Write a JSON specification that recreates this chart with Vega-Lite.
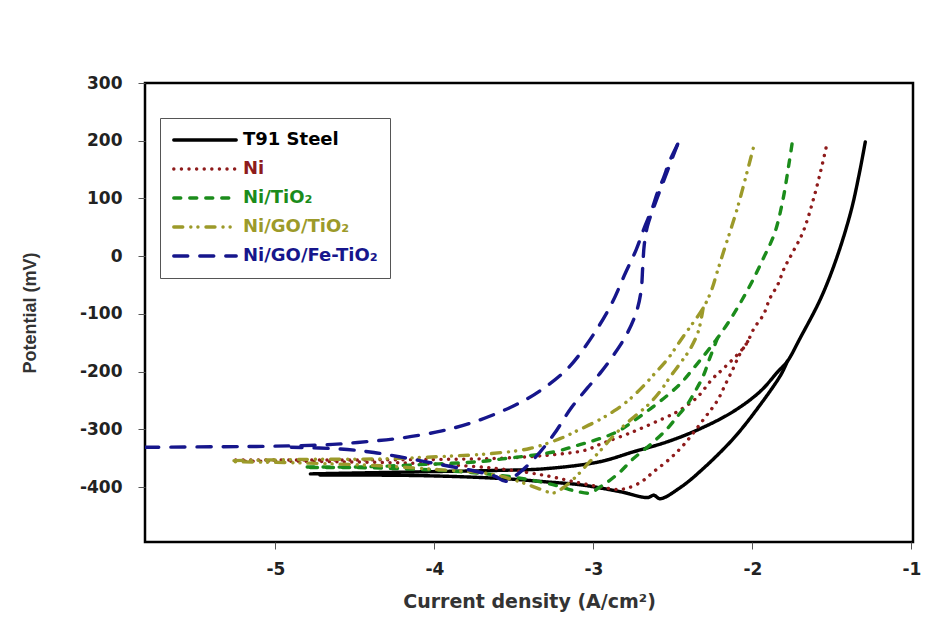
{
  "$schema": "https://vega.github.io/schema/vega-lite/v6.json",
  "autosize": "none",
  "width": 768,
  "height": 459,
  "padding": {"left": 145, "top": 83, "right": 34, "bottom": 92},
  "background": "white",
  "datasets": {
    "curves": [
      {"series":"T91 Steel","branch":"A","idx":1,"logi":-4.78,"E":-377},
      {"series":"T91 Steel","branch":"A","idx":2,"logi":-4.40,"E":-375},
      {"series":"T91 Steel","branch":"A","idx":3,"logi":-4.00,"E":-373},
      {"series":"T91 Steel","branch":"A","idx":4,"logi":-3.60,"E":-371},
      {"series":"T91 Steel","branch":"A","idx":5,"logi":-3.30,"E":-368},
      {"series":"T91 Steel","branch":"A","idx":6,"logi":-2.96,"E":-356},
      {"series":"T91 Steel","branch":"A","idx":7,"logi":-2.75,"E":-339},
      {"series":"T91 Steel","branch":"A","idx":8,"logi":-2.53,"E":-321},
      {"series":"T91 Steel","branch":"A","idx":9,"logi":-2.33,"E":-299},
      {"series":"T91 Steel","branch":"A","idx":10,"logi":-2.12,"E":-269},
      {"series":"T91 Steel","branch":"A","idx":11,"logi":-1.95,"E":-234},
      {"series":"T91 Steel","branch":"A","idx":12,"logi":-1.84,"E":-200},
      {"series":"T91 Steel","branch":"A","idx":13,"logi":-1.78,"E":-182},
      {"series":"T91 Steel","branch":"A","idx":14,"logi":-1.70,"E":-142},
      {"series":"T91 Steel","branch":"A","idx":15,"logi":-1.57,"E":-73},
      {"series":"T91 Steel","branch":"A","idx":16,"logi":-1.47,"E":-3},
      {"series":"T91 Steel","branch":"A","idx":17,"logi":-1.38,"E":78},
      {"series":"T91 Steel","branch":"A","idx":18,"logi":-1.33,"E":140},
      {"series":"T91 Steel","branch":"A","idx":19,"logi":-1.29,"E":198},
      {"series":"T91 Steel","branch":"B","idx":1,"logi":-1.78,"E":-182},
      {"series":"T91 Steel","branch":"B","idx":2,"logi":-1.82,"E":-205},
      {"series":"T91 Steel","branch":"B","idx":3,"logi":-1.95,"E":-257},
      {"series":"T91 Steel","branch":"B","idx":4,"logi":-2.12,"E":-316},
      {"series":"T91 Steel","branch":"B","idx":5,"logi":-2.33,"E":-373},
      {"series":"T91 Steel","branch":"B","idx":6,"logi":-2.45,"E":-400},
      {"series":"T91 Steel","branch":"B","idx":7,"logi":-2.58,"E":-420},
      {"series":"T91 Steel","branch":"B","idx":8,"logi":-2.62,"E":-414},
      {"series":"T91 Steel","branch":"B","idx":9,"logi":-2.66,"E":-418},
      {"series":"T91 Steel","branch":"B","idx":10,"logi":-2.83,"E":-408},
      {"series":"T91 Steel","branch":"B","idx":11,"logi":-3.08,"E":-396},
      {"series":"T91 Steel","branch":"B","idx":12,"logi":-3.29,"E":-391},
      {"series":"T91 Steel","branch":"B","idx":13,"logi":-3.58,"E":-385},
      {"series":"T91 Steel","branch":"B","idx":14,"logi":-4.09,"E":-380},
      {"series":"T91 Steel","branch":"B","idx":15,"logi":-4.72,"E":-379},

      {"series":"Ni","branch":"A","idx":1,"logi":-5.25,"E":-353},
      {"series":"Ni","branch":"A","idx":2,"logi":-4.60,"E":-353},
      {"series":"Ni","branch":"A","idx":3,"logi":-4.00,"E":-352},
      {"series":"Ni","branch":"A","idx":4,"logi":-3.60,"E":-350},
      {"series":"Ni","branch":"A","idx":5,"logi":-3.30,"E":-345},
      {"series":"Ni","branch":"A","idx":6,"logi":-3.05,"E":-336},
      {"series":"Ni","branch":"A","idx":7,"logi":-2.96,"E":-326},
      {"series":"Ni","branch":"A","idx":8,"logi":-2.75,"E":-304},
      {"series":"Ni","branch":"A","idx":9,"logi":-2.56,"E":-281},
      {"series":"Ni","branch":"A","idx":10,"logi":-2.47,"E":-269},
      {"series":"Ni","branch":"A","idx":11,"logi":-2.35,"E":-245},
      {"series":"Ni","branch":"A","idx":12,"logi":-2.25,"E":-212},
      {"series":"Ni","branch":"A","idx":13,"logi":-2.18,"E":-194},
      {"series":"Ni","branch":"A","idx":14,"logi":-2.06,"E":-160},
      {"series":"Ni","branch":"A","idx":15,"logi":-2.03,"E":-148},
      {"series":"Ni","branch":"A","idx":16,"logi":-1.99,"E":-125},
      {"series":"Ni","branch":"A","idx":17,"logi":-1.93,"E":-101},
      {"series":"Ni","branch":"A","idx":18,"logi":-1.89,"E":-73},
      {"series":"Ni","branch":"A","idx":19,"logi":-1.84,"E":-49},
      {"series":"Ni","branch":"A","idx":20,"logi":-1.80,"E":-21},
      {"series":"Ni","branch":"A","idx":21,"logi":-1.75,"E":5},
      {"series":"Ni","branch":"A","idx":22,"logi":-1.68,"E":43},
      {"series":"Ni","branch":"A","idx":23,"logi":-1.62,"E":95},
      {"series":"Ni","branch":"A","idx":24,"logi":-1.57,"E":148},
      {"series":"Ni","branch":"A","idx":25,"logi":-1.53,"E":196},
      {"series":"Ni","branch":"B","idx":1,"logi":-2.03,"E":-148},
      {"series":"Ni","branch":"B","idx":2,"logi":-2.08,"E":-170},
      {"series":"Ni","branch":"B","idx":3,"logi":-2.12,"E":-194},
      {"series":"Ni","branch":"B","idx":4,"logi":-2.17,"E":-222},
      {"series":"Ni","branch":"B","idx":5,"logi":-2.22,"E":-250},
      {"series":"Ni","branch":"B","idx":6,"logi":-2.30,"E":-280},
      {"series":"Ni","branch":"B","idx":7,"logi":-2.43,"E":-326},
      {"series":"Ni","branch":"B","idx":8,"logi":-2.52,"E":-351},
      {"series":"Ni","branch":"B","idx":9,"logi":-2.62,"E":-373},
      {"series":"Ni","branch":"B","idx":10,"logi":-2.70,"E":-391},
      {"series":"Ni","branch":"B","idx":11,"logi":-2.79,"E":-402},
      {"series":"Ni","branch":"B","idx":12,"logi":-2.85,"E":-404},
      {"series":"Ni","branch":"B","idx":13,"logi":-2.95,"E":-400},
      {"series":"Ni","branch":"B","idx":14,"logi":-3.10,"E":-392},
      {"series":"Ni","branch":"B","idx":15,"logi":-3.30,"E":-380},
      {"series":"Ni","branch":"B","idx":16,"logi":-3.60,"E":-368},
      {"series":"Ni","branch":"B","idx":17,"logi":-4.00,"E":-360},
      {"series":"Ni","branch":"B","idx":18,"logi":-4.60,"E":-356},
      {"series":"Ni","branch":"B","idx":19,"logi":-5.20,"E":-355},

      {"series":"Ni/TiO₂","branch":"A","idx":1,"logi":-4.80,"E":-365},
      {"series":"Ni/TiO₂","branch":"A","idx":2,"logi":-4.47,"E":-365},
      {"series":"Ni/TiO₂","branch":"A","idx":3,"logi":-4.09,"E":-361},
      {"series":"Ni/TiO₂","branch":"A","idx":4,"logi":-3.73,"E":-356},
      {"series":"Ni/TiO₂","branch":"A","idx":5,"logi":-3.57,"E":-351},
      {"series":"Ni/TiO₂","branch":"A","idx":6,"logi":-3.25,"E":-339},
      {"series":"Ni/TiO₂","branch":"A","idx":7,"logi":-3.08,"E":-326},
      {"series":"Ni/TiO₂","branch":"A","idx":8,"logi":-2.96,"E":-316},
      {"series":"Ni/TiO₂","branch":"A","idx":9,"logi":-2.85,"E":-304},
      {"series":"Ni/TiO₂","branch":"A","idx":10,"logi":-2.75,"E":-286},
      {"series":"Ni/TiO₂","branch":"A","idx":11,"logi":-2.64,"E":-264},
      {"series":"Ni/TiO₂","branch":"A","idx":12,"logi":-2.53,"E":-240},
      {"series":"Ni/TiO₂","branch":"A","idx":13,"logi":-2.45,"E":-220},
      {"series":"Ni/TiO₂","branch":"A","idx":14,"logi":-2.37,"E":-194},
      {"series":"Ni/TiO₂","branch":"A","idx":15,"logi":-2.29,"E":-167},
      {"series":"Ni/TiO₂","branch":"A","idx":16,"logi":-2.22,"E":-142},
      {"series":"Ni/TiO₂","branch":"A","idx":17,"logi":-2.14,"E":-110},
      {"series":"Ni/TiO₂","branch":"A","idx":18,"logi":-2.07,"E":-78},
      {"series":"Ni/TiO₂","branch":"A","idx":19,"logi":-2.00,"E":-43},
      {"series":"Ni/TiO₂","branch":"A","idx":20,"logi":-1.93,"E":-3},
      {"series":"Ni/TiO₂","branch":"A","idx":21,"logi":-1.86,"E":40},
      {"series":"Ni/TiO₂","branch":"A","idx":22,"logi":-1.81,"E":95},
      {"series":"Ni/TiO₂","branch":"A","idx":23,"logi":-1.77,"E":160},
      {"series":"Ni/TiO₂","branch":"A","idx":24,"logi":-1.75,"E":196},
      {"series":"Ni/TiO₂","branch":"B","idx":1,"logi":-2.22,"E":-142},
      {"series":"Ni/TiO₂","branch":"B","idx":2,"logi":-2.27,"E":-178},
      {"series":"Ni/TiO₂","branch":"B","idx":3,"logi":-2.31,"E":-208},
      {"series":"Ni/TiO₂","branch":"B","idx":4,"logi":-2.36,"E":-234},
      {"series":"Ni/TiO₂","branch":"B","idx":5,"logi":-2.41,"E":-257},
      {"series":"Ni/TiO₂","branch":"B","idx":6,"logi":-2.47,"E":-277},
      {"series":"Ni/TiO₂","branch":"B","idx":7,"logi":-2.54,"E":-300},
      {"series":"Ni/TiO₂","branch":"B","idx":8,"logi":-2.64,"E":-326},
      {"series":"Ni/TiO₂","branch":"B","idx":9,"logi":-2.75,"E":-351},
      {"series":"Ni/TiO₂","branch":"B","idx":10,"logi":-2.83,"E":-373},
      {"series":"Ni/TiO₂","branch":"B","idx":11,"logi":-2.91,"E":-391},
      {"series":"Ni/TiO₂","branch":"B","idx":12,"logi":-2.96,"E":-400},
      {"series":"Ni/TiO₂","branch":"B","idx":13,"logi":-3.02,"E":-410},
      {"series":"Ni/TiO₂","branch":"B","idx":14,"logi":-3.11,"E":-407},
      {"series":"Ni/TiO₂","branch":"B","idx":15,"logi":-3.21,"E":-399},
      {"series":"Ni/TiO₂","branch":"B","idx":16,"logi":-3.33,"E":-391},
      {"series":"Ni/TiO₂","branch":"B","idx":17,"logi":-3.52,"E":-382},
      {"series":"Ni/TiO₂","branch":"B","idx":18,"logi":-3.84,"E":-373},
      {"series":"Ni/TiO₂","branch":"B","idx":19,"logi":-4.21,"E":-368},
      {"series":"Ni/TiO₂","branch":"B","idx":20,"logi":-4.53,"E":-366},
      {"series":"Ni/TiO₂","branch":"B","idx":21,"logi":-4.80,"E":-366},

      {"series":"Ni/GO/TiO₂","branch":"A","idx":1,"logi":-5.26,"E":-354},
      {"series":"Ni/GO/TiO₂","branch":"A","idx":2,"logi":-4.84,"E":-352},
      {"series":"Ni/GO/TiO₂","branch":"A","idx":3,"logi":-4.34,"E":-351},
      {"series":"Ni/GO/TiO₂","branch":"A","idx":4,"logi":-3.96,"E":-347},
      {"series":"Ni/GO/TiO₂","branch":"A","idx":5,"logi":-3.65,"E":-342},
      {"series":"Ni/GO/TiO₂","branch":"A","idx":6,"logi":-3.40,"E":-333},
      {"series":"Ni/GO/TiO₂","branch":"A","idx":7,"logi":-3.21,"E":-316},
      {"series":"Ni/GO/TiO₂","branch":"A","idx":8,"logi":-3.10,"E":-302},
      {"series":"Ni/GO/TiO₂","branch":"A","idx":9,"logi":-2.96,"E":-283},
      {"series":"Ni/GO/TiO₂","branch":"A","idx":10,"logi":-2.87,"E":-268},
      {"series":"Ni/GO/TiO₂","branch":"A","idx":11,"logi":-2.79,"E":-252},
      {"series":"Ni/GO/TiO₂","branch":"A","idx":12,"logi":-2.70,"E":-229},
      {"series":"Ni/GO/TiO₂","branch":"A","idx":13,"logi":-2.62,"E":-205},
      {"series":"Ni/GO/TiO₂","branch":"A","idx":14,"logi":-2.53,"E":-177},
      {"series":"Ni/GO/TiO₂","branch":"A","idx":15,"logi":-2.45,"E":-145},
      {"series":"Ni/GO/TiO₂","branch":"A","idx":16,"logi":-2.38,"E":-118},
      {"series":"Ni/GO/TiO₂","branch":"A","idx":17,"logi":-2.31,"E":-90},
      {"series":"Ni/GO/TiO₂","branch":"A","idx":18,"logi":-2.26,"E":-61},
      {"series":"Ni/GO/TiO₂","branch":"A","idx":19,"logi":-2.22,"E":-26},
      {"series":"Ni/GO/TiO₂","branch":"A","idx":20,"logi":-2.18,"E":9},
      {"series":"Ni/GO/TiO₂","branch":"A","idx":21,"logi":-2.14,"E":43},
      {"series":"Ni/GO/TiO₂","branch":"A","idx":22,"logi":-2.10,"E":78},
      {"series":"Ni/GO/TiO₂","branch":"A","idx":23,"logi":-2.06,"E":118},
      {"series":"Ni/GO/TiO₂","branch":"A","idx":24,"logi":-2.02,"E":160},
      {"series":"Ni/GO/TiO₂","branch":"A","idx":25,"logi":-1.99,"E":192},
      {"series":"Ni/GO/TiO₂","branch":"B","idx":1,"logi":-2.31,"E":-90},
      {"series":"Ni/GO/TiO₂","branch":"B","idx":2,"logi":-2.34,"E":-130},
      {"series":"Ni/GO/TiO₂","branch":"B","idx":3,"logi":-2.39,"E":-160},
      {"series":"Ni/GO/TiO₂","branch":"B","idx":4,"logi":-2.45,"E":-184},
      {"series":"Ni/GO/TiO₂","branch":"B","idx":5,"logi":-2.52,"E":-210},
      {"series":"Ni/GO/TiO₂","branch":"B","idx":6,"logi":-2.58,"E":-234},
      {"series":"Ni/GO/TiO₂","branch":"B","idx":7,"logi":-2.65,"E":-256},
      {"series":"Ni/GO/TiO₂","branch":"B","idx":8,"logi":-2.73,"E":-275},
      {"series":"Ni/GO/TiO₂","branch":"B","idx":9,"logi":-2.81,"E":-294},
      {"series":"Ni/GO/TiO₂","branch":"B","idx":10,"logi":-2.89,"E":-316},
      {"series":"Ni/GO/TiO₂","branch":"B","idx":11,"logi":-2.96,"E":-338},
      {"series":"Ni/GO/TiO₂","branch":"B","idx":12,"logi":-3.03,"E":-358},
      {"series":"Ni/GO/TiO₂","branch":"B","idx":13,"logi":-3.11,"E":-382},
      {"series":"Ni/GO/TiO₂","branch":"B","idx":14,"logi":-3.19,"E":-401},
      {"series":"Ni/GO/TiO₂","branch":"B","idx":15,"logi":-3.25,"E":-410},
      {"series":"Ni/GO/TiO₂","branch":"B","idx":16,"logi":-3.33,"E":-404},
      {"series":"Ni/GO/TiO₂","branch":"B","idx":17,"logi":-3.46,"E":-391},
      {"series":"Ni/GO/TiO₂","branch":"B","idx":18,"logi":-3.65,"E":-377},
      {"series":"Ni/GO/TiO₂","branch":"B","idx":19,"logi":-3.96,"E":-370},
      {"series":"Ni/GO/TiO₂","branch":"B","idx":20,"logi":-4.34,"E":-363},
      {"series":"Ni/GO/TiO₂","branch":"B","idx":21,"logi":-4.84,"E":-358},
      {"series":"Ni/GO/TiO₂","branch":"B","idx":22,"logi":-5.26,"E":-356},

      {"series":"Ni/GO/Fe-TiO₂","branch":"A","idx":1,"logi":-5.82,"E":-331},
      {"series":"Ni/GO/Fe-TiO₂","branch":"A","idx":2,"logi":-5.36,"E":-330},
      {"series":"Ni/GO/Fe-TiO₂","branch":"A","idx":3,"logi":-5.00,"E":-329},
      {"series":"Ni/GO/Fe-TiO₂","branch":"A","idx":4,"logi":-4.64,"E":-326},
      {"series":"Ni/GO/Fe-TiO₂","branch":"A","idx":5,"logi":-4.42,"E":-321},
      {"series":"Ni/GO/Fe-TiO₂","branch":"A","idx":6,"logi":-4.21,"E":-315},
      {"series":"Ni/GO/Fe-TiO₂","branch":"A","idx":7,"logi":-3.96,"E":-303},
      {"series":"Ni/GO/Fe-TiO₂","branch":"A","idx":8,"logi":-3.75,"E":-287},
      {"series":"Ni/GO/Fe-TiO₂","branch":"A","idx":9,"logi":-3.50,"E":-259},
      {"series":"Ni/GO/Fe-TiO₂","branch":"A","idx":10,"logi":-3.33,"E":-232},
      {"series":"Ni/GO/Fe-TiO₂","branch":"A","idx":11,"logi":-3.16,"E":-194},
      {"series":"Ni/GO/Fe-TiO₂","branch":"A","idx":12,"logi":-3.02,"E":-144},
      {"series":"Ni/GO/Fe-TiO₂","branch":"A","idx":13,"logi":-2.89,"E":-85},
      {"series":"Ni/GO/Fe-TiO₂","branch":"A","idx":14,"logi":-2.80,"E":-30},
      {"series":"Ni/GO/Fe-TiO₂","branch":"A","idx":15,"logi":-2.73,"E":12},
      {"series":"Ni/GO/Fe-TiO₂","branch":"A","idx":16,"logi":-2.68,"E":49},
      {"series":"Ni/GO/Fe-TiO₂","branch":"A","idx":17,"logi":-2.63,"E":83},
      {"series":"Ni/GO/Fe-TiO₂","branch":"A","idx":18,"logi":-2.60,"E":108},
      {"series":"Ni/GO/Fe-TiO₂","branch":"A","idx":19,"logi":-2.56,"E":135},
      {"series":"Ni/GO/Fe-TiO₂","branch":"A","idx":20,"logi":-2.52,"E":165},
      {"series":"Ni/GO/Fe-TiO₂","branch":"A","idx":21,"logi":-2.47,"E":194},
      {"series":"Ni/GO/Fe-TiO₂","branch":"B","idx":1,"logi":-2.47,"E":194},
      {"series":"Ni/GO/Fe-TiO₂","branch":"B","idx":2,"logi":-2.52,"E":158},
      {"series":"Ni/GO/Fe-TiO₂","branch":"B","idx":3,"logi":-2.57,"E":122},
      {"series":"Ni/GO/Fe-TiO₂","branch":"B","idx":4,"logi":-2.62,"E":85},
      {"series":"Ni/GO/Fe-TiO₂","branch":"B","idx":5,"logi":-2.66,"E":52},
      {"series":"Ni/GO/Fe-TiO₂","branch":"B","idx":6,"logi":-2.68,"E":20},
      {"series":"Ni/GO/Fe-TiO₂","branch":"B","idx":7,"logi":-2.69,"E":-20},
      {"series":"Ni/GO/Fe-TiO₂","branch":"B","idx":8,"logi":-2.70,"E":-60},
      {"series":"Ni/GO/Fe-TiO₂","branch":"B","idx":9,"logi":-2.73,"E":-97},
      {"series":"Ni/GO/Fe-TiO₂","branch":"B","idx":10,"logi":-2.79,"E":-135},
      {"series":"Ni/GO/Fe-TiO₂","branch":"B","idx":11,"logi":-2.87,"E":-170},
      {"series":"Ni/GO/Fe-TiO₂","branch":"B","idx":12,"logi":-2.95,"E":-200},
      {"series":"Ni/GO/Fe-TiO₂","branch":"B","idx":13,"logi":-3.04,"E":-229},
      {"series":"Ni/GO/Fe-TiO₂","branch":"B","idx":14,"logi":-3.14,"E":-263},
      {"series":"Ni/GO/Fe-TiO₂","branch":"B","idx":15,"logi":-3.25,"E":-309},
      {"series":"Ni/GO/Fe-TiO₂","branch":"B","idx":16,"logi":-3.37,"E":-350},
      {"series":"Ni/GO/Fe-TiO₂","branch":"B","idx":17,"logi":-3.47,"E":-376},
      {"series":"Ni/GO/Fe-TiO₂","branch":"B","idx":18,"logi":-3.55,"E":-390},
      {"series":"Ni/GO/Fe-TiO₂","branch":"B","idx":19,"logi":-3.62,"E":-381},
      {"series":"Ni/GO/Fe-TiO₂","branch":"B","idx":20,"logi":-3.75,"E":-372},
      {"series":"Ni/GO/Fe-TiO₂","branch":"B","idx":21,"logi":-3.96,"E":-361},
      {"series":"Ni/GO/Fe-TiO₂","branch":"B","idx":22,"logi":-4.17,"E":-350},
      {"series":"Ni/GO/Fe-TiO₂","branch":"B","idx":23,"logi":-4.38,"E":-340},
      {"series":"Ni/GO/Fe-TiO₂","branch":"B","idx":24,"logi":-4.59,"E":-334},
      {"series":"Ni/GO/Fe-TiO₂","branch":"B","idx":25,"logi":-4.90,"E":-331}
    ]
  },
  "data": {"name": "curves"},
  "mark": {"type": "line", "strokeWidth": 3.4, "strokeCap": "round", "strokeJoin": "round", "clip": true, "interpolate": "catmull-rom"},
  "encoding": {
    "x": {
      "field": "logi", "type": "quantitative",
      "scale": {"domain": [-5.82, -0.99], "nice": false, "zero": false},
      "axis": {"values": [-5, -4, -3, -2, -1], "labelExpr": "'' + datum.value", "title": "Current density (A/cm²)", "titlePadding": 15, "titleFontSize": 19}
    },
    "y": {
      "field": "E", "type": "quantitative",
      "scale": {"domain": [-495, 300], "nice": false, "zero": false},
      "axis": {"values": [-400, -300, -200, -100, 0, 100, 200, 300], "labelExpr": "'' + datum.value", "title": "Potential (mV)", "titlePadding": 40, "titleFont": "Liberation Sans"}
    },
    "color": {
      "field": "series", "type": "nominal",
      "scale": {
        "domain": ["T91 Steel", "Ni", "Ni/TiO₂", "Ni/GO/TiO₂", "Ni/GO/Fe-TiO₂"],
        "range": ["#000000", "#8e1b1b", "#1b8c1b", "#9c9a2a", "#16168c"]
      },
      "legend": {
        "title": null,
        "orient": "none",
        "legendX": 15,
        "legendY": 35,
        "symbolType": "stroke",
        "symbolSize": 3900,
        "symbolStrokeWidth": 3.4,
        "clipHeight": 20,
        "rowPadding": 9,
        "labelFont": "DejaVu Sans",
        "labelFontWeight": "bold",
        "labelFontSize": 18,
        "labelOffset": 5,
        "padding": 12,
        "strokeColor": "#555555",
        "fillColor": "white",
        "encode": {
          "labels": {"update": {"fill": {"scale": "color", "field": "value"}}},
          "symbols": {"update": {"strokeCap": {"value": "round"}}}
        }
      }
    },
    "strokeDash": {
      "field": "series", "type": "nominal",
      "scale": {
        "domain": ["T91 Steel", "Ni", "Ni/TiO₂", "Ni/GO/TiO₂", "Ni/GO/Fe-TiO₂"],
        "range": [[1, 0], [0.1, 7.5], [7, 9], [9, 8, 0.1, 7, 0.1, 8], [14, 12]]
      },
      "legend": {"title": null}
    },
    "detail": {"field": "branch", "type": "nominal"},
    "order": {"field": "idx", "type": "quantitative"}
  },
  "config": {
    "font": "DejaVu Sans",
    "view": {"stroke": "#000000", "strokeWidth": 2.5},
    "axis": {
      "grid": false,
      "domain": false,
      "ticks": true,
      "tickSize": 7,
      "tickColor": "#555555",
      "tickWidth": 1,
      "labelFont": "DejaVu Sans",
      "labelFontWeight": "bold",
      "labelFontSize": 17,
      "labelColor": "#222222",
      "titleFont": "DejaVu Sans",
      "titleFontWeight": "bold",
      "titleFontSize": 18,
      "titleColor": "#333333"
    },
    "axisX": {"labelPadding": 12},
    "axisY": {"labelPadding": 16}
  }
}
